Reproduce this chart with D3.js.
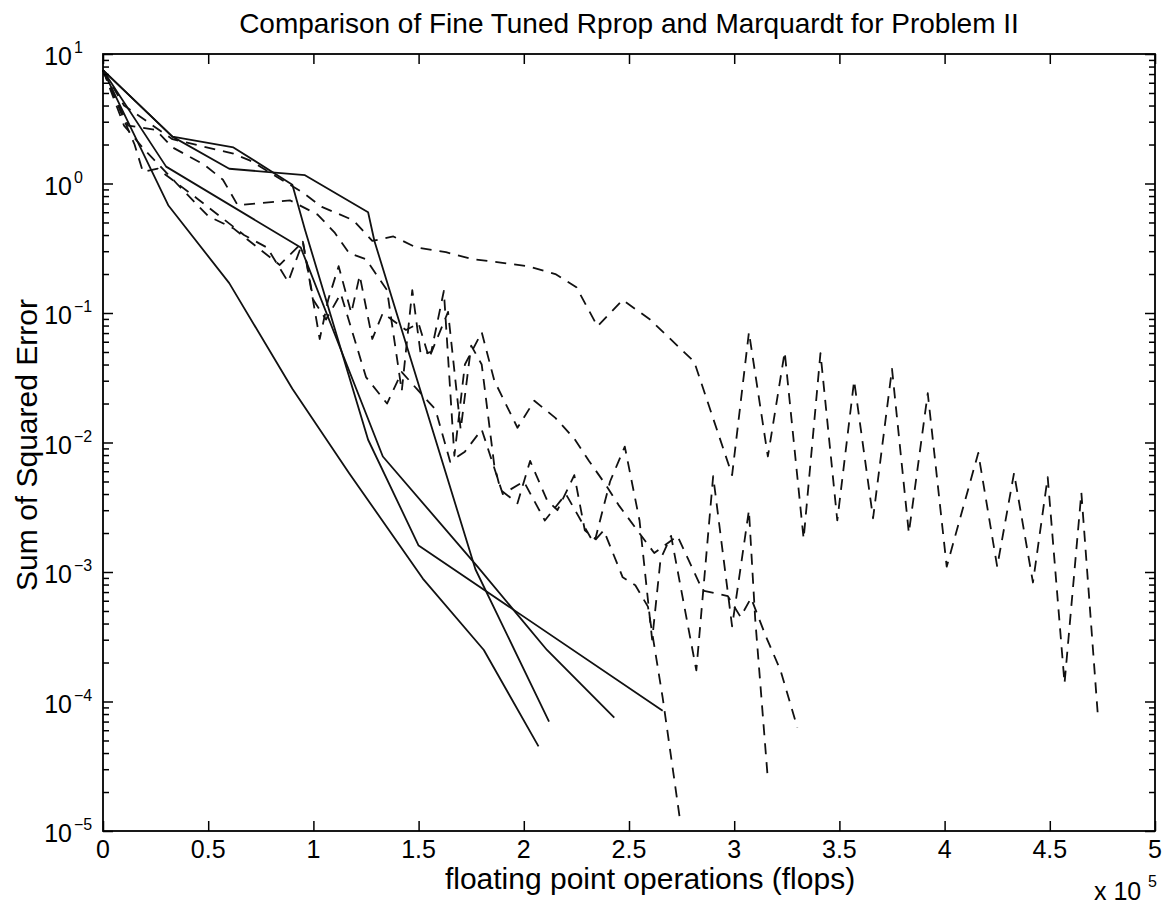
<!DOCTYPE html>
<html><head><meta charset="utf-8">
<script src="https://cdn.jsdelivr.net/npm/d3@7"></script>
<style>
body{margin:0;background:#fff}
svg{display:block}
text{font-family:"Liberation Sans",Arial,Helvetica,sans-serif;fill:#000}
</style>
</head><body>
<svg id="chart" width="1170" height="906"></svg>
<script>
// ---- tick labels ----
const xTickValues=[0,0.5,1,1.5,2,2.5,3,3.5,4,4.5,5];
const xTickLabels=["0","0.5","1","1.5","2","2.5","3","3.5","4","4.5","5"];
const yDecadeValues=[1e-5,1e-4,1e-3,1e-2,1e-1,1,10];
const yDecadeExponents=["\u22125","\u22124","\u22123","\u22122","\u22121","0","1"];

// ---- Marquardt runs (solid); flops in units of 1e5 ----
const mqA_flops=[0,0.31,0.60,0.90,1.17,1.52,1.81,2.07];
const mqA_sse=[7.5,0.68,0.17,0.026,0.0058,0.00089,0.00025,4.5e-5];
const mqB_flops=[0,0.30,0.94,1.33,1.78,2.11,2.43];
const mqB_sse=[7.5,1.35,0.32,0.0078,0.0011,0.00025,7.5e-5];
const mqC_flops=[0,0.33,0.62,0.90,0.96,1.26,1.50,2.66];
const mqC_sse=[7.5,2.3,1.9,0.98,0.44,0.0105,0.0016,8.5e-5];
const mqD_flops=[0,0.33,0.60,0.96,1.26,1.29,1.77,2.12];
const mqD_sse=[7.5,2.3,1.3,1.16,0.60,0.36,0.00105,7.0e-5];

// ---- Rprop runs (dashed) ----
const rpE_flops=[0,0.10,0.33,0.62,0.70,0.95,1.04,1.19,1.28,1.38,1.49,1.63,1.76,1.89,2.02,2.15,2.25,2.35,2.47,2.60,2.81,2.99,3.07,3.16,3.24,3.33,3.41,3.49,3.57,3.66,3.75,3.83,3.92,4.01,4.16,4.25,4.33,4.42,4.49,4.57,4.65,4.73];
const rpE_sse=[7.5,4.0,2.2,1.7,1.5,0.85,0.66,0.52,0.36,0.39,0.32,0.295,0.26,0.245,0.23,0.20,0.158,0.079,0.126,0.089,0.042,0.0056,0.071,0.0078,0.05,0.0018,0.049,0.0025,0.030,0.0026,0.037,0.0020,0.024,0.0011,0.0083,0.0011,0.0058,0.00083,0.0054,0.000138,0.0041,7.2e-5];
const rpQ_flops=[0,0.12,0.25,0.33,0.48,0.57,0.64,0.89,1.02,1.10,1.17,1.25,1.35,1.42,1.47,1.51,1.56,1.62,1.67,1.72,1.80,1.86,1.97,2.05,2.15,2.24,2.31,2.39,2.45,2.53,2.62,2.73,2.85,2.97,3.03,3.08,3.15,3.22,3.30];
const rpQ_sse=[7.5,2.8,2.6,1.9,1.4,1.07,0.68,0.74,0.575,0.42,0.29,0.26,0.15,0.025,0.15,0.048,0.05,0.148,0.0079,0.04,0.071,0.030,0.013,0.021,0.0155,0.0107,0.0072,0.0047,0.0033,0.0022,0.0014,0.0019,0.00072,0.00065,0.00045,0.00063,0.00032,0.000174,6.3e-5];
const rpR_flops=[0,0.15,0.19,0.26,0.45,0.67,0.78,0.88,0.95,1.03,1.07,1.12,1.18,1.22,1.28,1.33,1.44,1.50,1.55,1.64,1.70,1.75,1.80,1.86,1.89,1.97,2.03,2.11,2.16,2.24,2.29,2.34,2.41,2.48,2.55,2.61,2.65,2.70,2.82,2.90,2.99,3.07,3.10,3.16];
const rpR_sse=[7.5,2.0,1.23,1.3,0.76,0.40,0.32,0.174,0.355,0.063,0.126,0.23,0.1,0.195,0.063,0.1,0.074,0.083,0.045,0.102,0.0126,0.056,0.04,0.0066,0.0043,0.0034,0.0072,0.0036,0.003,0.0056,0.0021,0.0018,0.005,0.0093,0.0025,0.0003,0.00126,0.0019,0.000174,0.0055,0.00038,0.003,0.00043,2.5e-5];
const rpS_flops=[0,0.10,0.20,0.35,0.50,0.62,0.84,0.95,1.00,1.06,1.13,1.25,1.35,1.42,1.50,1.58,1.65,1.72,1.80,1.90,2.00,2.10,2.20,2.33,2.38,2.47,2.53,2.59,2.66,2.74];
const rpS_sse=[7.5,2.8,1.8,1.0,0.56,0.45,0.235,0.355,0.126,0.089,0.141,0.032,0.02,0.035,0.025,0.018,0.0071,0.0085,0.0126,0.004,0.005,0.0025,0.004,0.0017,0.0021,0.00091,0.00079,0.00054,0.000107,1.3e-5];

const series=[
  {x:mqA_flops,y:mqA_sse,dashed:false},
  {x:mqB_flops,y:mqB_sse,dashed:false},
  {x:mqC_flops,y:mqC_sse,dashed:false},
  {x:mqD_flops,y:mqD_sse,dashed:false},
  {x:rpE_flops,y:rpE_sse,dashed:true},
  {x:rpQ_flops,y:rpQ_sse,dashed:true},
  {x:rpR_flops,y:rpR_sse,dashed:true},
  {x:rpS_flops,y:rpS_sse,dashed:true}
];

const L=103,R=1155,T=54,B=831;
const svg=d3.select("#chart");
svg.append("rect").attr("width",1170).attr("height",906).attr("fill","#fff");
const x=d3.scaleLinear().domain([0,5]).range([L,R]);
const y=d3.scaleLog().domain([1e-5,10]).range([B,T]);

// data lines
const line=d3.line().x(d=>x(d[0])).y(d=>y(d[1]));
const gLines=svg.append("g");
series.forEach(s=>{
  gLines.append("path")
    .datum(s.x.map((v,i)=>[v,s.y[i]]))
    .attr("d",line)
    .attr("fill","none")
    .attr("stroke","#111")
    .attr("stroke-width",1.8)
    .attr("stroke-linejoin","round")
    .attr("stroke-dasharray",s.dashed?"11,8":null);
});

// axes (inward ticks, MATLAB style)
svg.append("g").attr("transform",`translate(0,${B})`)
  .call(d3.axisBottom(x).tickValues(xTickValues).tickSizeInner(-10).tickSizeOuter(0).tickFormat(()=>""));
svg.append("g").attr("transform",`translate(0,${T})`)
  .call(d3.axisTop(x).tickValues(xTickValues).tickSizeInner(-10).tickSizeOuter(0).tickFormat(()=>""));
const minorVals=[];
for(let k=-5;k<1;k++){for(let m=2;m<=9;m++)minorVals.push(m*Math.pow(10,k));}
[[d3.axisLeft,L],[d3.axisRight,R]].forEach(([ax,pos])=>{
  svg.append("g").attr("transform",`translate(${pos},0)`)
    .call(ax(y).tickValues(yDecadeValues).tickSizeInner(-10).tickSizeOuter(0).tickFormat(()=>""));
  svg.append("g").attr("transform",`translate(${pos},0)`)
    .call(ax(y).tickValues(minorVals).tickSizeInner(-6).tickSizeOuter(0).tickFormat(()=>""));
});
svg.selectAll(".domain").remove();
svg.selectAll(".tick line").attr("stroke","#000").attr("stroke-width",1.5);
svg.append("rect").attr("x",L).attr("y",T).attr("width",R-L).attr("height",B-T)
  .attr("fill","none").attr("stroke","#000").attr("stroke-width",1.8);

// x tick labels
svg.append("g").selectAll("text").data(xTickValues).join("text")
  .attr("x",d=>x(d)).attr("y",858).attr("text-anchor","middle")
  .attr("font-size",25).text((d,i)=>xTickLabels[i]);

// y tick labels 10^k
const gy=svg.append("g");
yDecadeValues.forEach((v,i)=>{
  gy.append("text").attr("x",72).attr("y",y(v)+11).attr("text-anchor","end")
    .attr("font-size",25).text("10");
  gy.append("text").attr("x",74).attr("y",y(v)-1).attr("text-anchor","start")
    .attr("font-size",16).text(yDecadeExponents[i]);
});

// titles
svg.append("text").attr("x",(L+R)/2).attr("y",33).attr("text-anchor","middle")
  .attr("font-size",28).text("Comparison of Fine Tuned Rprop and Marquardt for Problem II");
svg.append("text").attr("x",650).attr("y",889).attr("text-anchor","middle")
  .attr("font-size",30).text("floating point operations (flops)");
svg.append("text").attr("transform","translate(37,445) rotate(-90)").attr("text-anchor","middle")
  .attr("font-size",30).text("Sum of Squared Error");
svg.append("text").attr("x",1094).attr("y",900).attr("font-size",25).text("x 10");
svg.append("text").attr("x",1148).attr("y",887).attr("font-size",16).text("5");
</script>
</body></html>
